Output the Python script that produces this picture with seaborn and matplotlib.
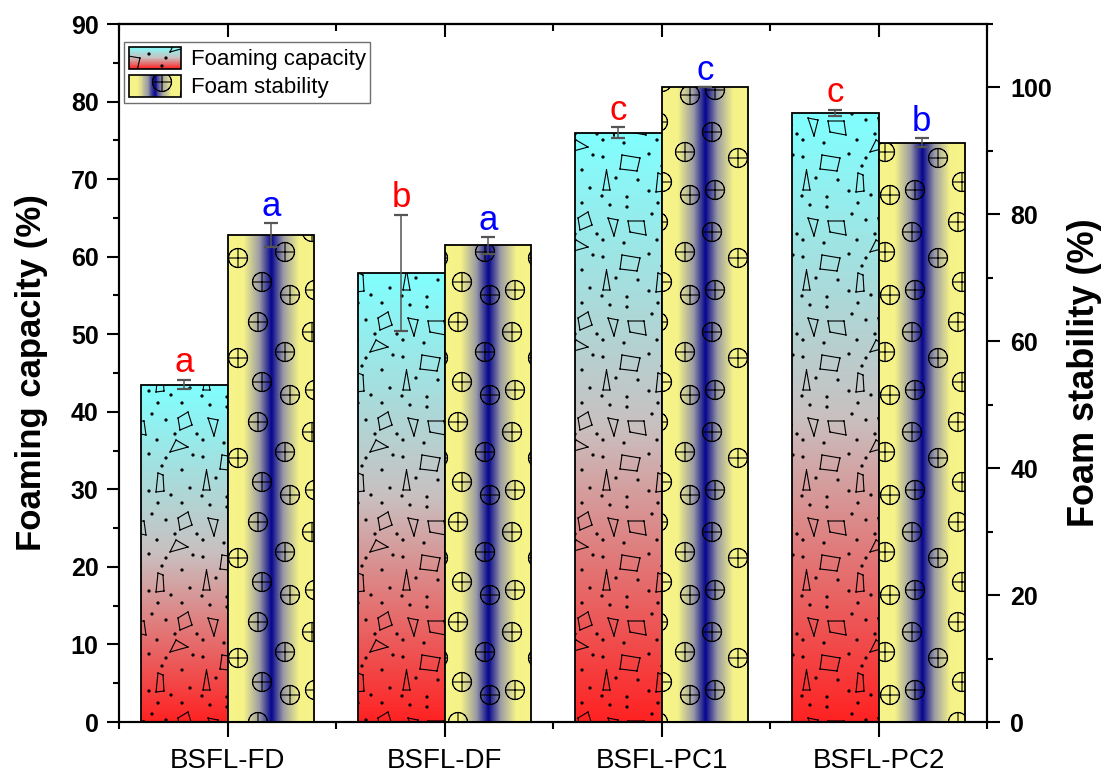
import numpy as np
import pandas as pd
import matplotlib
matplotlib.use("Agg")
import matplotlib.pyplot as plt
import matplotlib.hatch as mhatch
from matplotlib.path import Path
from matplotlib.patches import Patch, Rectangle
from matplotlib.colors import LinearSegmentedColormap
from matplotlib.legend_handler import HandlerBase
from matplotlib.ticker import FixedLocator, MultipleLocator
import seaborn as sns

# ---------------------------------------------------------------- data
samples = ["BSFL-FD", "BSFL-DF", "BSFL-PC1", "BSFL-PC2"]
series = ["Foaming capacity", "Foam stability"]

foaming_capacity = [43.5, 57.9, 76.0, 78.5]
foaming_capacity_err = [0.6, 7.5, 0.7, 0.4]
foam_stability = [76.7, 75.1, 100.0, 91.3]
foam_stability_err = [1.9, 1.3, 0.0, 0.7]

fc_letters = ["a", "b", "c", "c"]
fs_letters = ["a", "a", "c", "b"]

# ---------------------------------------------------------------- style
sns.set_theme(style="ticks")
plt.rcParams["font.family"] = ["Liberation Sans", "DejaVu Sans"]
plt.rcParams["axes.linewidth"] = 1.5
plt.rcParams["hatch.linewidth"] = 0.8
for key in ("text.color", "axes.labelcolor", "xtick.color", "ytick.color",
            "axes.edgecolor"):
    plt.rcParams[key] = "black"

fc_cmap = LinearSegmentedColormap.from_list(
    "fc", [(0.0, "#FF2222"), (0.5, "#C9C0C0"), (1.0, "#80FFFF")])
fs_cmap = LinearSegmentedColormap.from_list(
    "fs", [(0.0, "#F7F58A"), (0.18, "#F5F388"), (0.36, "#9C9CA4"),
           (0.5, "#06068F"), (0.64, "#9C9CA4"), (0.82, "#F5F388"),
           (1.0, "#F7F58A")])


# ---------------------------------------------------------------- fill textures
def _circle(cx, cy, r, n=28):
    t = np.linspace(0, 2 * np.pi, n, endpoint=False)
    return np.column_stack([cx + r * np.cos(t), cy + r * np.sin(t)])


def _tile(outlines=(), segments=(), solids=()):
    """Build a seamless unit-tile path: outlines/segments are stroked only,
    solids are filled."""
    vs, cs = [], []
    for dx in (-1, 0, 1):
        for dy in (-1, 0, 1):
            off = np.array([dx, dy], float)
            for poly in outlines:
                p = np.asarray(poly, float) + off
                for a, b in zip(p, np.roll(p, -1, axis=0)):
                    vs += [a, b]
                    cs += [Path.MOVETO, Path.LINETO]
            for a, b in segments:
                vs += [np.asarray(a, float) + off, np.asarray(b, float) + off]
                cs += [Path.MOVETO, Path.LINETO]
            for poly in solids:
                p = np.asarray(poly, float) + off
                vs += list(p) + [p[0]]
                cs += [Path.MOVETO] + [Path.LINETO] * (len(p) - 1) + [Path.CLOSEPOLY]
    return np.array(vs), np.array(cs, dtype=Path.code_type)


dot_xy = [(0.02, 0.04), (0.27, 0.03), (0.49, 0.09), (0.71, 0.05), (0.90, 0.12),
          (0.16, 0.22), (0.38, 0.20), (0.62, 0.34), (0.82, 0.30),
          (0.03, 0.43), (0.49, 0.46), (0.66, 0.42), (0.93, 0.45),
          (0.03, 0.60), (0.24, 0.57), (0.57, 0.60), (0.75, 0.66),
          (0.52, 0.86), (0.66, 0.80), (0.97, 0.66),
          (0.27, 0.93), (0.58, 0.97), (0.82, 0.97), (0.10, 0.95)]
flake_polys = [
    [(0.03, 0.10), (0.10, 0.10), (0.065, 0.30)],
    [(0.20, 0.31), (0.37, 0.29), (0.40, 0.42), (0.22, 0.45)],
    [(0.56, 0.08), (0.64, 0.09), (0.63, 0.25), (0.58, 0.27)],
    [(0.70, 0.48), (0.88, 0.53), (0.76, 0.60)],
    [(0.30, 0.68), (0.46, 0.65), (0.44, 0.79), (0.28, 0.79)],
    [(0.80, 0.70), (0.92, 0.75), (0.88, 0.88), (0.78, 0.82)],
    [(0.08, 0.82), (0.14, 0.64), (0.18, 0.80)],
]
FOAM_TILE = _tile(outlines=flake_polys,
                  solids=[_circle(x, y, 0.011, 10) for x, y in dot_xy])

bubble_xy = [(0.15, 0.10), (0.62, 0.18), (0.38, 0.42), (0.85, 0.48),
             (0.12, 0.68), (0.58, 0.78), (0.90, 0.05)]
R_BUB = 0.095
BUBBLE_TILE = _tile(
    outlines=[_circle(x, y, R_BUB) for x, y in bubble_xy],
    segments=[seg for x, y in bubble_xy for seg in (
        ((x - R_BUB, y), (x + R_BUB, y)), ((x, y - R_BUB), (x, y + R_BUB)))])


class _Texture(mhatch.HatchPatternBase):
    key = ""
    tile = (np.empty((0, 2)), np.empty(0, dtype=Path.code_type))

    def __init__(self, hatch, density):
        self.num_vertices = len(self.tile[0]) if self.key in hatch else 0

    def set_vertices_and_codes(self, vertices, codes):
        vertices[:] = self.tile[0]
        codes[:] = self.tile[1]


class FoamTexture(_Texture):
    key = "o"
    tile = FOAM_TILE


class BubbleTexture(_Texture):
    key = "O"
    tile = BUBBLE_TILE


mhatch._hatch_types = [t for t in mhatch._hatch_types
                       if t not in (mhatch.SmallCircles, mhatch.LargeCircles)]
mhatch._hatch_types += [FoamTexture, BubbleTexture]


class GradientSwatch(HandlerBase):
    def __init__(self, cmap, vertical, hatch):
        super().__init__()
        self.cmap, self.vertical, self.hatch = cmap, vertical, hatch

    def create_artists(self, legend, orig_handle, xdescent, ydescent,
                       width, height, fontsize, trans):
        x0, y0 = -xdescent, -ydescent
        n = 60
        arts = []
        for i in range(n):
            c = self.cmap((i + 0.5) / n)
            if self.vertical:
                r = Rectangle((x0, y0 + height * i / n), width, height / n * 1.1)
            else:
                r = Rectangle((x0 + width * i / n, y0), width / n * 1.1, height)
            r.set(facecolor=c, edgecolor="none", linewidth=0,
                  antialiased=False, transform=trans)
            arts.append(r)
        frame = Rectangle((x0, y0), width, height, facecolor="none",
                          edgecolor="black", linewidth=1.2, hatch=self.hatch,
                          transform=trans)
        arts.append(frame)
        return arts


# ---------------------------------------------------------------- figure
fc_df = pd.DataFrame({"sample": samples, "value": foaming_capacity, "series": series[0]})
fs_df = pd.DataFrame({"sample": samples, "value": foam_stability, "series": series[1]})

fig = plt.figure(figsize=(11.15, 7.72), dpi=100)
ax1 = fig.add_axes([119 / 1115, 50 / 772, 868 / 1115, 698 / 772])
ax2 = ax1.twinx()

common = dict(x="sample", y="value", hue="series", hue_order=series, order=samples,
              dodge=True, width=0.8, gap=0, errorbar=None, legend=False)
sns.barplot(data=fc_df, ax=ax1, **common)
sns.barplot(data=fs_df, ax=ax2, **common)


def style_bars(ax, cmap, vertical, hatch):
    bars = sorted([p for p in ax.patches if isinstance(p, Rectangle)],
                  key=lambda p: p.get_x())
    for bar in bars:
        x0, y0 = bar.get_x(), bar.get_y()
        w, h = bar.get_width(), bar.get_height()
        grad = np.linspace(0, 1, 256)
        img = cmap(grad)[:, None, :] if vertical else cmap(grad)[None, :, :]
        im = ax.imshow(img, extent=(x0, x0 + w, y0, y0 + h), origin="lower",
                       aspect="auto", interpolation="bilinear", zorder=1)
        im.set_clip_path(bar)
        bar.set_facecolor("none")
        bar.set_edgecolor("black")
        bar.set_linewidth(1.3)
        bar.set_hatch(hatch)
        bar.set_zorder(2)
    return bars


fc_bars = style_bars(ax1, fc_cmap, True, "o")
fs_bars = style_bars(ax2, fs_cmap, False, "O")


def add_errors(ax, bars, vals, errs, letters, color):
    xs = [b.get_x() + b.get_width() / 2 for b in bars]
    ax.errorbar(xs, vals, yerr=errs, fmt="none", ecolor="#555555",
                elinewidth=1.1, capsize=4.7, capthick=1.6, zorder=3)
    for x, v, e, t in zip(xs, vals, errs, letters):
        ax.annotate(t, (x, v + e), xytext=(0, 5.5), textcoords="offset points",
                    ha="center", va="baseline", color=color, fontsize=25)


add_errors(ax1, fc_bars, foaming_capacity, foaming_capacity_err, fc_letters, "#FF0000")
add_errors(ax2, fs_bars, foam_stability, foam_stability_err, fs_letters, "#0000FF")

# ---------------------------------------------------------------- axes
ax1.set_xlim(-0.5, 3.5)
ax1.set_ylim(0, 90)
ax2.set_ylim(0, 110)

ax1.set_yticks(np.arange(0, 91, 10))
ax1.yaxis.set_minor_locator(MultipleLocator(5))
ax2.set_yticks(np.arange(0, 101, 20))
ax2.yaxis.set_minor_locator(MultipleLocator(10))
ax1.xaxis.set_minor_locator(FixedLocator([-0.5, 0.5, 1.5, 2.5, 3.5]))

ax1.tick_params(axis="y", which="major", direction="out", length=8.6, width=1.5,
                labelsize=18, pad=6, left=True, right=False)
ax1.tick_params(axis="y", which="minor", direction="out", length=4.3, width=1.5,
                left=True, right=False)
ax2.tick_params(axis="y", which="major", direction="out", length=9.4, width=1.5,
                labelsize=18, pad=7.5, right=True, left=False)
ax2.tick_params(axis="y", which="minor", direction="out", length=4.3, width=1.5,
                right=True, left=False)
ax1.tick_params(axis="x", which="major", direction="out", length=10.5, width=1.5,
                labelsize=20, pad=8, top=False, bottom=True)
ax1.tick_params(axis="x", which="minor", direction="out", length=5, width=1.5,
                top=False, bottom=True)

top = ax1.secondary_xaxis("top")
top.set_xticks(range(len(samples)))
top.xaxis.set_minor_locator(FixedLocator([-0.5, 0.5, 1.5, 2.5, 3.5]))
top.tick_params(axis="x", which="major", direction="in", length=9.4, width=1.5,
                labeltop=False)
top.tick_params(axis="x", which="minor", direction="in", length=5, width=1.5)
top.spines["top"].set_linewidth(1.5)

plt.setp(ax1.get_yticklabels(), fontweight="bold")
plt.setp(ax2.get_yticklabels(), fontweight="bold")

ax1.set_xlabel("")
ax2.set_xlabel("")
ax1.set_ylabel("Foaming capacity (%)", fontsize=25, fontweight="bold")
ax2.set_ylabel("Foam stability (%)", fontsize=26, fontweight="bold")
ax1.yaxis.set_label_coords(-0.082, 0.5)
ax2.yaxis.set_label_coords(1.092, 0.5)

for sp in list(ax1.spines.values()) + list(ax2.spines.values()):
    sp.set_linewidth(1.5)

# ---------------------------------------------------------------- legend
h_fc = Patch(label=series[0])
h_fs = Patch(label=series[1])
leg = ax2.legend(handles=[h_fc, h_fs],
                 handler_map={h_fc: GradientSwatch(fc_cmap, True, "o"),
                              h_fs: GradientSwatch(fs_cmap, False, "O")},
                 loc="upper left", bbox_to_anchor=(0.006, 0.974), borderaxespad=0,
                 fontsize=16, frameon=True, fancybox=False, framealpha=1,
                 edgecolor="#707070", handlelength=2.35, handleheight=1.15,
                 labelspacing=0.2, handletextpad=0.45, borderpad=0.2)
leg.get_frame().set_linewidth(1.0)

fig.savefig("out.png", dpi=100)
